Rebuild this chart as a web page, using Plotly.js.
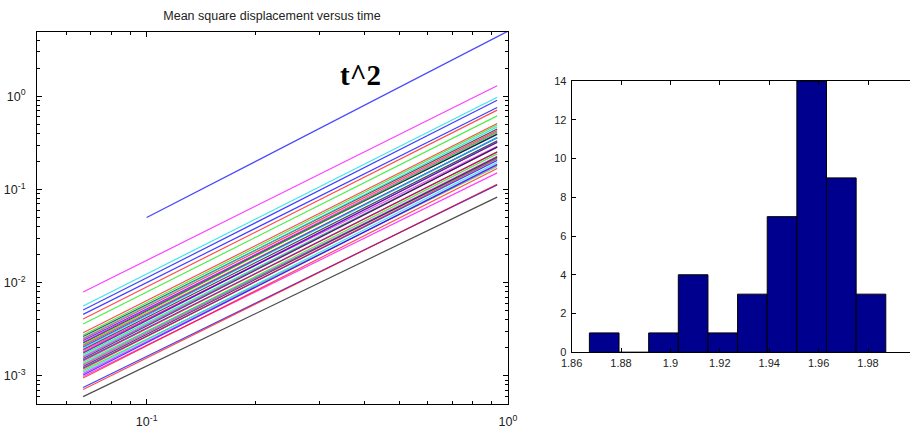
<!DOCTYPE html>
<html><head><meta charset="utf-8">
<script src="https://cdn.plot.ly/plotly-3.0.1.min.js"></script>
<style>html,body{margin:0;padding:0;background:#fff}#chart{width:910px;height:428px}</style>
</head><body><div id="chart"></div>
<script>
// ---- data ----
const timeEnds = [0.0667, 0.9333];
const msdStart = [7.93e-3, 5.614e-3, 5.085e-3, 4.573e-3, 4.073e-3, 3.600e-3, 2.904e-3,
  2.744e-3, 2.644e-3, 2.548e-3, 2.486e-3, 2.396e-3, 2.308e-3, 2.252e-3, 2.170e-3, 2.117e-3, 2.041e-3,
  1.991e-3, 1.919e-3, 1.872e-3, 1.804e-3, 1.760e-3, 1.696e-3, 1.634e-3, 1.594e-3, 1.536e-3, 1.480e-3,
  1.444e-3, 1.392e-3, 1.342e-3, 1.309e-3, 1.261e-3, 1.215e-3, 1.186e-3, 1.143e-3, 1.101e-3, 1.061e-3,
  1.022e-3, 9.85e-4, 9.49e-4,
  7.51e-4, 7.149e-4, 5.985e-4];
const msdEnd = [1.299, 0.977, 0.906, 0.757, 0.711, 0.617, 0.5106,
  0.4916, 0.4459, 0.4699, 0.4293, 0.3893, 0.4157, 0.3952, 0.4100, 0.3598, 0.3599,
  0.3604, 0.3321, 0.2916, 0.3198, 0.3220, 0.2844, 0.2858, 0.2849, 0.2863, 0.2522,
  0.2533, 0.2157, 0.2410, 0.2272, 0.2224, 0.2055, 0.2141, 0.1761, 0.1947, 0.1822,
  0.1861, 0.1507, 0.1683,
  0.1121, 0.1140, 0.0828];
const refTime = [0.1, 1];
const refMSD = [0.05, 5];
const slopeBinCenters = [1.8732, 1.8852, 1.8972, 1.9092, 1.9212, 1.9332, 1.9452, 1.9572, 1.9692, 1.9812];
const slopeCounts = [1, 0, 1, 4, 1, 3, 7, 14, 9, 3];
const xLogTickVals = [0.1, 1];
const xLogTickText = ['10<sup>-1</sup>', '10<sup>0</sup>'];
const yLogTickVals = [0.001, 0.01, 0.1, 1];
const yLogTickText = ['10<sup>-3</sup>', '10<sup>-2</sup>', '10<sup>-1</sup>', '10<sup>0</sup>'];
const histXTickVals = [1.86, 1.88, 1.9, 1.92, 1.94, 1.96, 1.98];
const histXTickText = ['1.86', '1.88', '1.9', '1.92', '1.94', '1.96', '1.98'];
const histYTickVals = [0, 2, 4, 6, 8, 10, 12, 14];
const histYTickText = ['0', '2', '4', '6', '8', '10', '12', '14'];
const titleText = 'Mean square displacement versus time';
const annotText = 't^2';

// ---- styles ----
const lineColorNames = ['m','c','b','b','r','g','r',
  'g','k','c','r','b','m','k','g','r','b','c','k','m','r','b','g','c','m','k','b','r','c','g','m','k','b','r','g','c','m','b','m','r',
  'b','r','k'];
const colorMap = {b:'rgba(0,0,255,0.75)', g:'rgba(0,230,0,0.7)', r:'rgba(255,0,0,0.7)',
  c:'rgba(0,220,230,0.75)', m:'rgba(255,0,255,0.75)', k:'rgba(0,0,0,0.7)'};

function minorVals(lo, hi) {
  const out = [];
  for (let e = lo; e <= hi; e++) for (let d = 2; d <= 9; d++) out.push(d * Math.pow(10, e));
  return out;
}

const traces = [];
for (let i = 0; i < msdStart.length; i++) {
  traces.push({x: timeEnds, y: [msdStart[i], msdEnd[i]], type: 'scatter', mode: 'lines',
    xaxis: 'x', yaxis: 'y', hoverinfo: 'skip',
    line: {color: colorMap[lineColorNames[i]], width: 1.2}});
}
traces.push({x: refTime, y: refMSD, type: 'scatter', mode: 'lines', xaxis: 'x', yaxis: 'y',
  line: {color: 'rgba(40,40,255,0.85)', width: 1.3}});
traces.push({x: slopeBinCenters, y: slopeCounts, type: 'bar', xaxis: 'x2', yaxis: 'y2',
  width: 0.0120, marker: {color: '#00008f', line: {color: '#000', width: 1}}});

const tickFont = {family: 'Liberation Sans, Arial, sans-serif', size: 12.5, color: '#222'};
const histFont = {family: 'Liberation Sans, Arial, sans-serif', size: 11, color: '#222'};

const layout = {
  width: 910, height: 428, showlegend: false,
  paper_bgcolor: '#fff', plot_bgcolor: '#fff',
  margin: {l: 0, r: 0, t: 0, b: 0},
  title: {text: titleText, x: 272/910, xanchor: 'center', y: 1 - 16/428, yanchor: 'middle',
    font: {family: 'Liberation Sans, Arial, sans-serif', size: 12.5, color: '#222'}},
  xaxis: {type: 'log', domain: [37/910, 508/910], range: [-1.3036, 0],
    tickmode: 'array', tickvals: xLogTickVals, ticktext: xLogTickText,
    ticks: 'inside', ticklen: 5, tickcolor: '#000', mirror: 'ticks',
    showline: true, linecolor: '#000', linewidth: 1, showgrid: false, zeroline: false,
    tickfont: tickFont, ticklabelstandoff: 6,
    minor: {tickvals: minorVals(-2, -1), ticks: 'inside', ticklen: 3, tickcolor: '#000', showgrid: false}},
  yaxis: {type: 'log', domain: [24/428, 396/428], range: [-3.302, 0.69],
    tickmode: 'array', tickvals: yLogTickVals, ticktext: yLogTickText,
    ticks: 'inside', ticklen: 5, tickcolor: '#000', mirror: 'ticks',
    showline: true, linecolor: '#000', linewidth: 1, showgrid: false, zeroline: false,
    tickfont: tickFont, ticklabelstandoff: 8,
    minor: {tickvals: minorVals(-4, 0), ticks: 'inside', ticklen: 3, tickcolor: '#000', showgrid: false}},
  xaxis2: {domain: [571.6/910, 1], range: [1.86, 1.997], anchor: 'y2',
    tickmode: 'array', tickvals: histXTickVals, ticktext: histXTickText,
    ticks: 'inside', ticklen: 4, tickcolor: '#000', mirror: 'ticks',
    showline: true, linecolor: '#000', linewidth: 1, showgrid: false, zeroline: false,
    tickfont: histFont, ticklabelstandoff: 0},
  yaxis2: {domain: [(428-352.3)/428, (428-81)/428], range: [0, 14], anchor: 'x2',
    tickmode: 'array', tickvals: histYTickVals, ticktext: histYTickText,
    ticks: 'inside', ticklen: 4, tickcolor: '#000',
    showline: true, linecolor: '#000', linewidth: 1, showgrid: false, zeroline: false,
    tickfont: histFont, ticklabelstandoff: 2},
  annotations: [{text: '<b>' + annotText + '</b>', xref: 'paper', yref: 'paper',
    x: 360/910, y: (428-75)/428, xanchor: 'center', yanchor: 'middle', showarrow: false,
    font: {family: 'Liberation Serif, Times New Roman, serif', size: 29, color: '#000'}}]
};

Plotly.newPlot('chart', traces, layout, {displayModeBar: false, staticPlot: true});
</script></body></html>
